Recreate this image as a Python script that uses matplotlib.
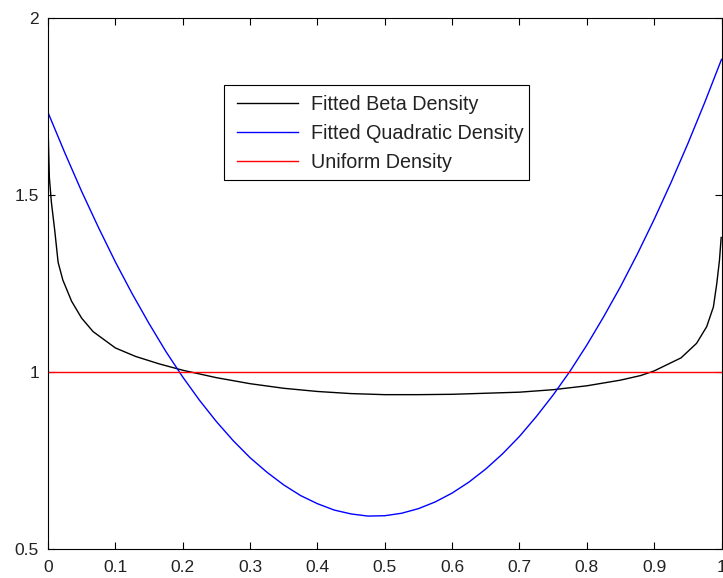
import matplotlib
matplotlib.use("Agg")
import matplotlib.pyplot as plt
from matplotlib.patches import Rectangle

plt.rcParams['font.family'] = ['Liberation Sans', 'DejaVu Sans']

# Fitted Beta density
beta_x = [0.0005, 0.002, 0.005, 0.010, 0.015, 0.022, 0.035, 0.050, 0.067, 0.100,
          0.130, 0.165, 0.200, 0.250, 0.300, 0.350, 0.400, 0.450, 0.500, 0.550,
          0.600, 0.650, 0.700, 0.750, 0.800, 0.850, 0.880, 0.900, 0.940, 0.963,
          0.978, 0.988, 0.993, 0.997, 0.9995]
beta_y = [1.66, 1.55, 1.48, 1.40, 1.31, 1.26, 1.20, 1.152, 1.114, 1.068,
          1.044, 1.023, 1.005, 0.984, 0.967, 0.954, 0.945, 0.939, 0.936, 0.936,
          0.937, 0.940, 0.943, 0.950, 0.961, 0.977, 0.990, 1.003, 1.040, 1.081,
          1.128, 1.184, 1.250, 1.316, 1.380]

# Fitted quadratic density
quad_x = [0.000, 0.025, 0.050, 0.075, 0.100, 0.125, 0.150, 0.175, 0.200, 0.225,
          0.250, 0.275, 0.300, 0.325, 0.350, 0.375, 0.400, 0.425, 0.450, 0.475,
          0.500, 0.525, 0.550, 0.575, 0.600, 0.625, 0.650, 0.675, 0.700, 0.725,
          0.750, 0.775, 0.800, 0.825, 0.850, 0.875, 0.900, 0.925, 0.950, 0.975,
          1.000]
quad_y = [1.733, 1.619, 1.510, 1.408, 1.311, 1.221, 1.137, 1.058, 0.986, 0.920,
          0.860, 0.806, 0.758, 0.717, 0.681, 0.651, 0.628, 0.610, 0.599, 0.593,
          0.594, 0.601, 0.614, 0.633, 0.658, 0.689, 0.726, 0.769, 0.818, 0.874,
          0.935, 1.002, 1.076, 1.156, 1.241, 1.333, 1.431, 1.535, 1.645, 1.761,
          1.883]

# Uniform density
unif_x = [0.0, 1.0]
unif_y = [1.0, 1.0]

xticks = [0, 0.1, 0.2, 0.3, 0.4, 0.5, 0.6, 0.7, 0.8, 0.9, 1]
xticklabels = ['0', '0.1', '0.2', '0.3', '0.4', '0.5', '0.6', '0.7', '0.8', '0.9', '1']
yticks = [0.5, 1, 1.5, 2]
yticklabels = ['0.5', '1', '1.5', '2']

W, H = 723, 578
AX_L, AX_B, AX_W, AX_H = 48, 29, 673.5, 531

fig = plt.figure(figsize=(W / 100, H / 100), dpi=100)
ax = fig.add_axes([AX_L / W, AX_B / H, AX_W / W, AX_H / H])

ax.plot(beta_x, beta_y, color='black', lw=1.0, label='Fitted Beta Density')
ax.plot(quad_x, quad_y, color='#0000ff', lw=1.0, label='Fitted Quadratic Density')
ax.plot(unif_x, unif_y, color='#ff0000', lw=1.0, label='Uniform Density')

ax.set_xlim(0, 1)
ax.set_ylim(0.5, 2)
ax.set_xticks(xticks)
ax.set_xticklabels(xticklabels)
ax.set_yticks(yticks)
ax.set_yticklabels(yticklabels)
ax.tick_params(direction='in', length=4.8, width=0.8, top=True, right=True,
               labelsize=12.5, colors='black', labelcolor='#222222')
ax.tick_params(axis='x', pad=8)
ax.tick_params(axis='y', pad=6.5)
for s in ax.spines.values():
    s.set_linewidth(0.8)
    s.set_color('black')


def px2ax(px, py):
    # pixel coords (from top-left of figure) -> axes fraction
    return (px - AX_L) / AX_W, ((H - py) - AX_B) / AX_H


# legend box frame
x0, y0 = px2ax(224, 180)
x1, y1 = px2ax(529, 85)
ax.add_patch(Rectangle((x0, y0), x1 - x0, y1 - y0, transform=ax.transAxes,
                       facecolor='white', edgecolor='black', lw=0.8, zorder=4,
                       clip_on=False))

leg = ax.legend(loc='upper left', bbox_to_anchor=px2ax(227, 85.5),
                borderaxespad=0, frameon=False, fontsize=14.2,
                handlelength=3.1, handletextpad=0.65, labelspacing=0.5,
                borderpad=0.5)
leg.set_zorder(5)
for t in leg.get_texts():
    t.set_color('#222222')

fig.savefig('out.png', dpi=100)
